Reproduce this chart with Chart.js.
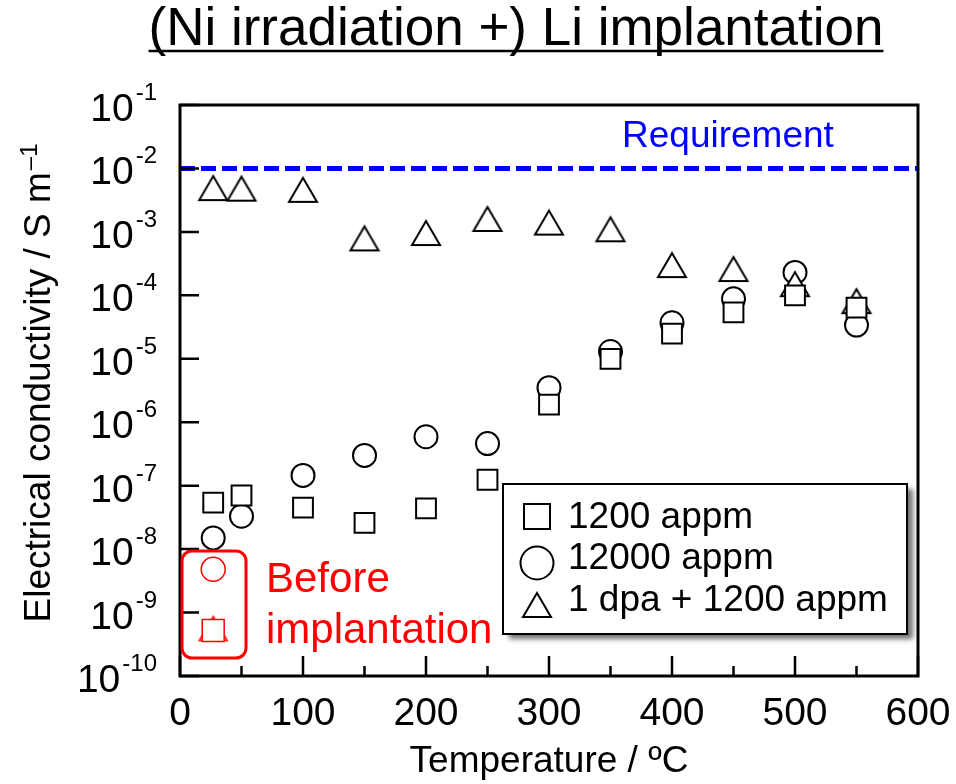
<!DOCTYPE html>
<html>
<head>
<meta charset="utf-8">
<script src="https://cdn.jsdelivr.net/npm/chart.js@4.4.1/dist/chart.umd.min.js"></script>
<style>
html,body{margin:0;padding:0;background:#ffffff;}
#wrap{width:956px;height:784px;position:relative;}
</style>
</head>
<body>
<div id="wrap"><canvas id="c" width="956" height="784"></canvas></div>
<script>
const FONT = '"Liberation Sans", Arial, Helvetica, sans-serif';

// ---- data ----
const temps = [27, 50, 100, 150, 200, 250, 300, 350, 400, 450, 500, 550];
const sigma1200 = [5.4e-8, 7.0e-8, 4.5e-8, 2.6e-8, 4.4e-8, 1.24e-7, 1.9e-6, 1.0e-5, 2.5e-5, 5.4e-5, 1.0e-4, 6.4e-5];
const sigma12000 = [1.5e-8, 3.3e-8, 1.45e-7, 3.0e-7, 5.9e-7, 4.6e-7, 3.5e-6, 1.3e-5, 3.7e-5, 8.8e-5, 2.3e-4, 3.4e-5];
const sigmaDpa = [4.9e-3, 4.8e-3, 4.6e-3, 7.9e-4, 9.6e-4, 1.6e-3, 1.4e-3, 1.1e-3, 3.0e-4, 2.6e-4, 1.5e-4, 8.1e-5];

const beforeTemp = [27];
const beforeCircle = [4.8e-9];
const beforeSquare = [5.2e-10];
const beforeTriangle = [5.6e-10];

const requirementTemp = [0, 600];
const requirementValue = [1e-2, 1e-2];

const xTickValues = [0, 100, 200, 300, 400, 500, 600];
const xMinorValues = [50, 150, 250, 350, 450, 550];
const yExponents = [-10, -9, -8, -7, -6, -5, -4, -3, -2, -1];

const seriesNames = ['1200 appm', '12000 appm', '1 dpa + 1200 appm'];
const titleText = '(Ni irradiation +) Li implantation';
const xTitleText = 'Temperature / \u00BAC';
const yTitleMain = 'Electrical conductivity / S m';
const yTitleSup = '\u20131';
const beforeLabel = ['Before', 'implantation'];
const requirementLabel = 'Requirement';

function pts(xs, ys) { return xs.map((x, i) => ({ x: x, y: ys[i] })); }

function makeTriangle(color, lw, w, h) {
  const pad = Math.ceil(lw * 2) + 1;
  const c = document.createElement('canvas');
  c.width = w + pad * 2;
  c.height = h + pad * 2;
  const g = c.getContext('2d');
  const cx = c.width / 2;
  g.beginPath();
  g.moveTo(cx, pad);
  g.lineTo(cx + w / 2, pad + h);
  g.lineTo(cx - w / 2, pad + h);
  g.closePath();
  g.fillStyle = '#ffffff';
  g.fill();
  g.lineJoin = 'miter';
  g.lineWidth = lw;
  g.strokeStyle = color;
  g.stroke();
  return c;
}
const triBlack = makeTriangle('#000000', 2, 28, 24);
const triRed = makeTriangle('#ff0000', 1.5, 28, 24);

const decor = {
  id: 'decor',
  afterDraw(chart) {
    const ctx = chart.ctx;
    const a = chart.chartArea;
    const xs = chart.scales.x;
    const ys = chart.scales.y;
    ctx.save();

    // frame
    ctx.strokeStyle = '#000';
    ctx.lineWidth = 3;
    ctx.strokeRect(a.left, a.top, a.right - a.left, a.bottom - a.top);

    // inward ticks
    ctx.lineWidth = 2.5;
    ctx.beginPath();
    xTickValues.forEach(v => { const p = xs.getPixelForValue(v); ctx.moveTo(p, a.bottom); ctx.lineTo(p, a.bottom - 20); });
    xMinorValues.forEach(v => { const p = xs.getPixelForValue(v); ctx.moveTo(p, a.bottom); ctx.lineTo(p, a.bottom - 10); });
    yExponents.forEach(e => { const p = ys.getPixelForValue(Math.pow(10, e)); ctx.moveTo(a.left, p); ctx.lineTo(a.left + 19, p); });
    ctx.stroke();

    // y tick labels 10^n
    ctx.fillStyle = '#000';
    ctx.textBaseline = 'alphabetic';
    const rightEdge = 157;
    yExponents.forEach(e => {
      const p = ys.getPixelForValue(Math.pow(10, e));
      const sup = String(e);
      ctx.font = '24px ' + FONT;
      const sw = ctx.measureText(sup).width;
      ctx.textAlign = 'left';
      ctx.fillText(sup, rightEdge - sw, p - 5);
      ctx.font = '39px ' + FONT;
      ctx.textAlign = 'right';
      ctx.fillText('10', rightEdge - sw - 2, p + 16);
    });

    // y axis title (rotated)
    ctx.save();
    ctx.translate(50, 383);
    ctx.rotate(-Math.PI / 2);
    ctx.font = '37px ' + FONT;
    const mw = ctx.measureText(yTitleMain).width;
    ctx.font = '24px ' + FONT;
    const sw2 = ctx.measureText(yTitleSup).width;
    const total = mw + 2 + sw2;
    ctx.textAlign = 'left';
    ctx.font = '37px ' + FONT;
    ctx.fillText(yTitleMain, -total / 2, 0);
    ctx.font = '24px ' + FONT;
    ctx.fillText(yTitleSup, -total / 2 + mw + 2, -13);
    ctx.restore();

    // chart title with underline
    ctx.font = '53px ' + FONT;
    ctx.textAlign = 'center';
    ctx.fillStyle = '#000';
    ctx.fillText(titleText, 516, 45);
    const tw = ctx.measureText(titleText).width;
    ctx.lineWidth = 2.5;
    ctx.beginPath();
    ctx.moveTo(516 - tw / 2, 51);
    ctx.lineTo(516 + tw / 2, 51);
    ctx.stroke();

    // Requirement label
    ctx.font = '37px ' + FONT;
    ctx.textAlign = 'left';
    ctx.fillStyle = '#0000ff';
    ctx.fillText(requirementLabel, 622, 147);

    // Before implantation box and text
    ctx.strokeStyle = '#ff0000';
    ctx.lineWidth = 3;
    ctx.beginPath();
    ctx.roundRect(182, 551, 64, 107, 10);
    ctx.stroke();
    ctx.fillStyle = '#ff0000';
    ctx.font = '42px ' + FONT;
    ctx.fillText(beforeLabel[0], 266, 592);
    ctx.fillText(beforeLabel[1], 266, 643);

    // legend box with shadow
    const lx = 503, ly = 484, lw = 404, lh = 150;
    ctx.save();
    ctx.shadowColor = 'rgba(0,0,0,0.55)';
    ctx.shadowOffsetX = 6;
    ctx.shadowOffsetY = 5;
    ctx.shadowBlur = 5;
    ctx.fillStyle = '#ffffff';
    ctx.fillRect(lx, ly, lw, lh);
    ctx.restore();
    ctx.strokeStyle = '#000';
    ctx.lineWidth = 2;
    ctx.strokeRect(lx, ly, lw, lh);

    // legend symbols
    ctx.lineWidth = 2;
    ctx.strokeStyle = '#000';
    ctx.strokeRect(537 - 13, 516 - 12, 26, 25);
    ctx.beginPath();
    ctx.arc(537, 563, 16.5, 0, Math.PI * 2);
    ctx.stroke();
    ctx.beginPath();
    ctx.moveTo(537, 593);
    ctx.lineTo(551, 617);
    ctx.lineTo(523, 617);
    ctx.closePath();
    ctx.stroke();

    ctx.fillStyle = '#000';
    ctx.font = '37px ' + FONT;
    ctx.textAlign = 'left';
    ctx.fillText(seriesNames[0], 568, 528);
    ctx.fillText(seriesNames[1], 568, 569);
    ctx.fillText(seriesNames[2], 568, 611);

    ctx.restore();
  }
};

const markerBase = { type: 'scatter', showLine: false, backgroundColor: '#ffffff', borderColor: '#000000', borderWidth: 2 };

new Chart(document.getElementById('c'), {
  type: 'scatter',
  data: {
    datasets: [
      Object.assign({}, markerBase, { label: seriesNames[0], data: pts(temps, sigma1200), pointStyle: 'rect', pointRadius: 14, pointHoverRadius: 14, order: 0 }),
      Object.assign({}, markerBase, { label: seriesNames[2], data: pts(temps, sigmaDpa), pointStyle: triBlack, pointRadius: 14, pointHoverRadius: 14, order: 1 }),
      Object.assign({}, markerBase, { label: seriesNames[1], data: pts(temps, sigma12000), pointStyle: 'circle', pointRadius: 11.5, pointHoverRadius: 11.5, order: 2 }),
      Object.assign({}, markerBase, { label: 'before square', data: pts(beforeTemp, beforeSquare), pointStyle: 'rect', pointRadius: 15.5, pointHoverRadius: 15.5, borderColor: '#ff0000', borderWidth: 1.5, order: 3 }),
      Object.assign({}, markerBase, { label: 'before triangle', data: pts(beforeTemp, beforeTriangle), pointStyle: triRed, pointRadius: 14, pointHoverRadius: 14, borderColor: '#ff0000', borderWidth: 1.5, order: 4 }),
      Object.assign({}, markerBase, { label: 'before circle', data: pts(beforeTemp, beforeCircle), pointStyle: 'circle', pointRadius: 12, pointHoverRadius: 12, borderColor: '#ff0000', borderWidth: 1.5, order: 5 }),
      { type: 'line', label: 'Requirement', data: pts(requirementTemp, requirementValue), borderColor: '#0000ff', borderWidth: 5, borderDash: [15, 6], pointRadius: 0, fill: false, order: 6 }
    ]
  },
  options: {
    responsive: false,
    animation: false,
    events: [],
    devicePixelRatio: 1,
    layout: { padding: { top: 105, right: 38, left: 0, bottom: 0 } },
    plugins: { legend: { display: false }, tooltip: { enabled: false }, title: { display: false } },
    scales: {
      x: {
        type: 'linear', min: 0, max: 600,
        afterFit: s => { s.height = 108; s.paddingLeft = 0; s.paddingRight = 0; },
        afterBuildTicks: s => { s.ticks = xTickValues.map(v => ({ value: v })); },
        grid: { display: false, drawTicks: false },
        border: { display: false },
        ticks: { color: '#000', font: { family: FONT, size: 39 }, padding: 15, maxRotation: 0, autoSkip: false, callback: v => String(v) },
        title: { display: true, text: xTitleText, color: '#000', font: { family: FONT, size: 37 }, padding: { top: 0, bottom: 0 } }
      },
      y: {
        type: 'logarithmic', min: 1e-10, max: 1e-1,
        afterFit: s => { s.width = 180; s.paddingTop = 0; s.paddingBottom = 0; },
        grid: { display: false, drawTicks: false },
        border: { display: false },
        ticks: { display: false }
      }
    }
  },
  plugins: [decor]
});
</script>
</body>
</html>
